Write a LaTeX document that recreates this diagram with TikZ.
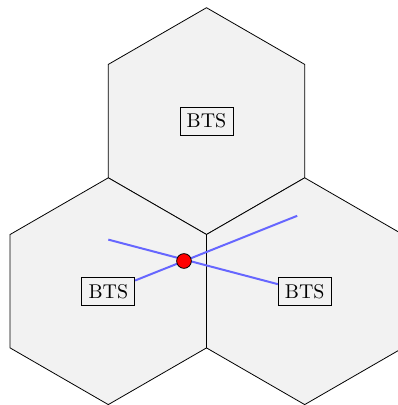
\documentclass[tikz,border=0pt]{standalone}
\usepackage{tikz}
\begin{document}
\begin{tikzpicture}[cell/.style={draw=black,fill=gray!10},
  bts/.style={draw=black,minimum size=0pt},
  link/.style={blue!60,line width=1pt}]
\useasboundingbox (-3.642,-3.007) rectangle (3.377,4.136);
\clip (-3.642,-3.007) rectangle (3.377,4.136);
\draw[cell] (0,2) +(90:2) -- +(150:2) -- +(210:2) -- +(270:2) -- +(330:2) -- +(30:2) -- cycle;
\draw[cell] (-1.732,-1) +(90:2) -- +(150:2) -- +(210:2) -- +(270:2) -- +(330:2) -- +(30:2) -- cycle;
\draw[cell] (1.732,-1) +(90:2) -- +(150:2) -- +(210:2) -- +(270:2) -- +(330:2) -- +(30:2) -- cycle;
\node[bts] (bts1) at (0,2) {BTS};
\node[bts] (bts2) at (-1.732,-1) {BTS};
\node[bts] (bts3) at (1.732,-1) {BTS};
\coordinate (a) at (-1.732,-0.09);
\coordinate (b) at (1.60,0.33);
\draw[link] (a) -- (bts3);
\draw[link] (bts2) -- (b);
\node[circle,draw=black,fill=red,inner sep=0pt,minimum size=0.26cm] (ms) at (-0.397,-0.467) {};
\end{tikzpicture}
\end{document}
